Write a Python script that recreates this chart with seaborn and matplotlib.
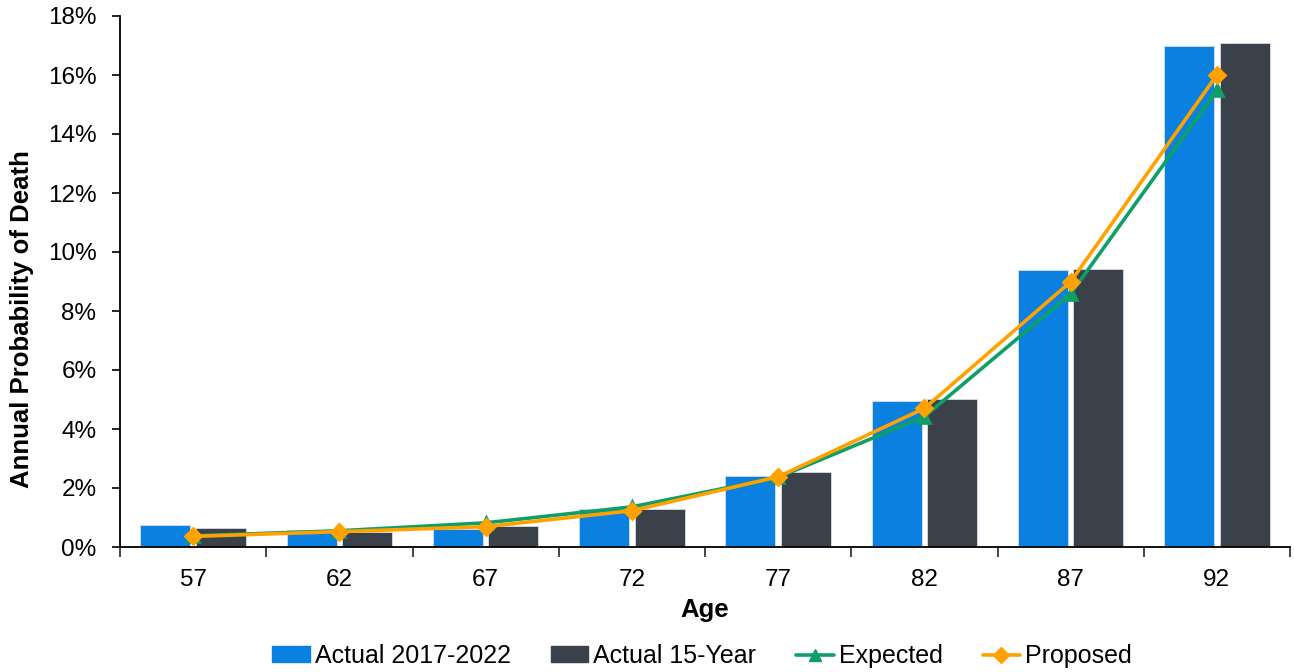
import numpy as np
import pandas as pd
import matplotlib
matplotlib.use("Agg")
import matplotlib.pyplot as plt
import seaborn as sns
from matplotlib.ticker import PercentFormatter, FixedLocator
from matplotlib.lines import Line2D
from matplotlib.patches import Patch

ages = ["57", "62", "67", "72", "77", "82", "87", "92"]
actual_2017_2022 = [0.76, 0.58, 0.60, 1.29, 2.42, 4.96, 9.39, 16.98]
actual_15_year = [0.65, 0.52, 0.72, 1.29, 2.54, 5.03, 9.42, 17.10]
expected = [0.38, 0.55, 0.82, 1.36, 2.36, 4.42, 8.58, 15.48]
proposed = [0.36, 0.52, 0.69, 1.23, 2.38, 4.70, 8.99, 16.00]
series_names = ["Actual 2017-2022", "Actual 15-Year", "Expected", "Proposed"]

C_BLUE = "#0A80E0"
C_GRAY = "#3B414B"
C_GREEN = "#0E9F69"
C_ORANGE = "#FFA200"

sns.set_theme(style="white")
plt.rcParams["font.family"] = ["Liberation Sans", "DejaVu Sans"]
plt.rcParams["text.color"] = "black"
plt.rcParams["axes.labelcolor"] = "black"

bars = pd.DataFrame({
    "Age": ages * 2,
    "Value": actual_2017_2022 + actual_15_year,
    "Series": [series_names[0]] * len(ages) + [series_names[1]] * len(ages),
})

fig = plt.figure(figsize=(12.94, 6.72), dpi=100)
ax = fig.add_axes([120 / 1294, 1 - 547 / 672, (1290 - 120) / 1294, (547 - 16) / 672])

sns.barplot(data=bars, x="Age", y="Value", hue="Series", order=ages,
            palette=[C_BLUE, C_GRAY], width=0.76, gap=0.1, ax=ax,
            edgecolor="#d8dde3", linewidth=0.6, legend=False, saturation=1)

line_df = pd.DataFrame({"Age": ages, "Expected": expected, "Proposed": proposed})
sns.pointplot(data=line_df, x="Age", y="Expected", order=ages, color=C_GREEN,
              markers="^", markersize=9, linewidth=2.6, ax=ax, zorder=4)
sns.pointplot(data=line_df, x="Age", y="Proposed", order=ages, color=C_ORANGE,
              markers="D", markersize=8, linewidth=2.6, ax=ax, zorder=5)

ax.set_xlim(-0.5, len(ages) - 0.5)
ax.set_ylim(0, 18)
ax.yaxis.set_major_locator(FixedLocator(np.arange(0, 19, 2)))
ax.yaxis.set_major_formatter(PercentFormatter(decimals=0))

# category boundary ticks (outside) and centre ticks (inside)
ax.xaxis.set_major_locator(FixedLocator(np.arange(len(ages))))
ax.set_xticklabels(ages)
ax.tick_params(axis="x", which="major", length=4, direction="in", width=1.2,
               labelsize=17.5, pad=16, colors="black")
ax.xaxis.set_minor_locator(FixedLocator(np.arange(-0.5, len(ages), 1)))
ax.tick_params(axis="x", which="minor", length=7, direction="out", width=1.2,
               bottom=True)
ax.tick_params(axis="y", which="major", length=6, direction="out", width=1.2,
               labelsize=17.5, left=True, colors="black", pad=11)

for s in ["top", "right"]:
    ax.spines[s].set_visible(False)
for s in ["left", "bottom"]:
    ax.spines[s].set_color("black")
    ax.spines[s].set_linewidth(1.3)

ax.set_xlabel("Age", fontsize=18.5, fontweight="bold", labelpad=5, color="black")
ax.set_ylabel("Annual Probability of Death", fontsize=18.5, fontweight="bold", color="black")
ax.yaxis.set_label_coords((34 - 120) / 1170, (547 - 319) / 531)

handles = [
    Patch(facecolor=C_BLUE, edgecolor=C_BLUE),
    Patch(facecolor=C_GRAY, edgecolor=C_GRAY),
    Line2D([], [], color=C_GREEN, marker="^", markersize=9, linewidth=2.6),
    Line2D([], [], color=C_ORANGE, marker="D", markersize=8, linewidth=2.6),
]
leg = fig.legend(handles, series_names, loc="center", bbox_to_anchor=(702 / 1294, 1 - 656 / 672),
                 ncol=4, frameon=False, fontsize=18, handlelength=1.5, handleheight=0.6,
                 handletextpad=0.2, columnspacing=1.6, borderaxespad=0)
for t in leg.get_texts():
    t.set_color("black")

fig.savefig("out.png", dpi=100)
